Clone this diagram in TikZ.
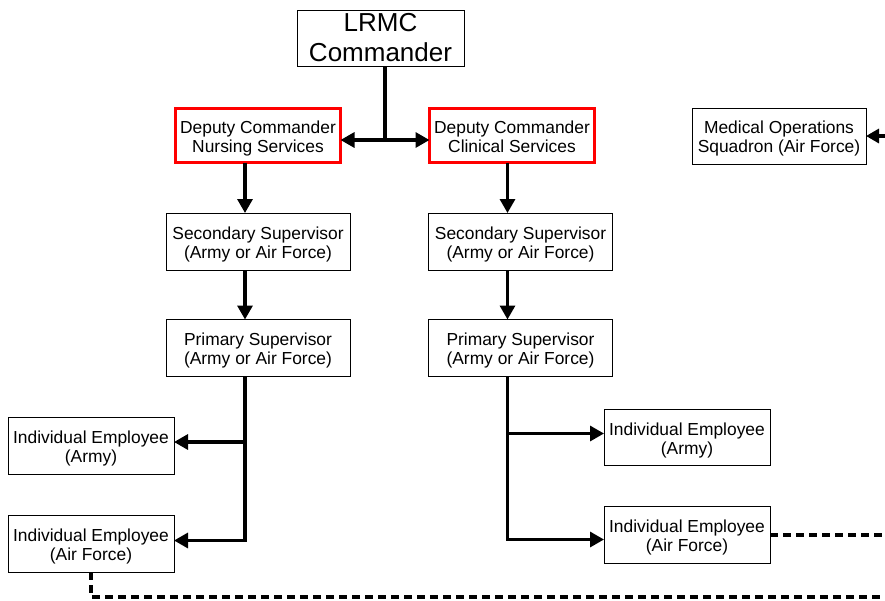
\documentclass[tikz,border=0pt]{standalone}
\usepackage{fontspec}
\setmainfont{Liberation Sans}
\usepackage{xcolor}
\usetikzlibrary{arrows.meta, positioning}

% two text lines with a fixed height and depth, so every box sets them alike
\newcommand{\twolines}[2]{\rule{0pt}{19.4pt}#1\\#2\rule[-5pt]{0pt}{5pt}}

\begin{document}
\begin{tikzpicture}[x=1pt, y=-1pt,
    box/.style={draw, line width=0.9pt, align=center, inner sep=0pt, outer sep=0pt,
                minimum width=184pt, minimum height=57pt,
                font=\fontsize{17.4}{19}\selectfont},
    dep/.style={box, draw=red, line width=2.8pt, minimum width=165pt, minimum height=54pt},
    emp/.style={box, minimum width=166pt, minimum height=56.5pt},
    link/.style={line width=3.2pt},
    arrow/.style={link, -{Triangle[length=14pt, width=15pt]}},
    dashline/.style={line width=3.2pt, dash pattern=on 8pt off 5pt}
    ]
    \useasboundingbox (0,0) rectangle (885,600);

    \node[box, minimum width=167pt, minimum height=56pt,
          font=\fontsize{26}{30}\selectfont] (lrmc) at (380.5,38) {LRMC\\Commander};
    \node[dep] (nursing)  at (258,135.5) {\twolines{Deputy Commander}{Nursing Services}};
    \node[dep] (clinical) at (512,135.5) {\twolines{Deputy Commander}{Clinical Services}};
    \node[box, minimum width=174pt, minimum height=56pt] (medops) at (779,136)
        {\twolines{Medical Operations}{Squadron (Air Force)}};

    \node[box] (secl) at (258,241.5) {\twolines{Secondary Supervisor}{(Army or Air Force)}};
    \node[box] (secr) at (520.5,241.5) {\twolines{Secondary Supervisor}{(Army or Air Force)}};
    \node[box] (priml) at (258,348) {\twolines{Primary Supervisor}{(Army or Air Force)}};
    \node[box] (primr) at (520.5,348) {\twolines{Primary Supervisor}{(Army or Air Force)}};

    \node[emp] (armyl) at (91,446) {\twolines{Individual Employee}{(Army)}};
    \node[emp] (afl)   at (91,544) {\twolines{Individual Employee}{(Air Force)}};
    \node[emp] (armyr) at (687,437.5) {\twolines{Individual Employee}{(Army)}};
    \node[emp] (afr)   at (687,535) {\twolines{Individual Employee}{(Air Force)}};

    % commander to deputies
    \coordinate (hub) at (385,140);
    \draw[link] ([xshift=4.5pt]lrmc.south) -- (hub);
    \draw[link, {Triangle[length=14pt, width=15pt]}-{Triangle[length=14pt, width=15pt]}]
        (nursing.east |- hub) -- (clinical.west |- hub);

    % left chain
    \draw[arrow] ([xshift=-13pt]nursing.south) -- ([xshift=-13pt]secl.north);
    \draw[arrow] ([xshift=-13pt]secl.south) -- ([xshift=-13pt]priml.north);
    \coordinate (busl) at ([xshift=-13pt]priml.south);
    \draw[arrow] (busl) |- ([yshift=3.5pt]afl.east);
    \draw[arrow] (busl |- 0,442) -- (armyl.east |- 0,442);

    % right chain
    \draw[arrow] ([xshift=-4.5pt]clinical.south) -- ([xshift=-4.5pt]clinical.south |- secr.north);
    \draw[arrow] ([xshift=-13pt]secr.south) -- ([xshift=-13pt]primr.north);
    \coordinate (busr) at ([xshift=-13pt]primr.south);
    \draw[arrow] (busr) |- (afr.west |- 0,539.5);
    \draw[arrow] (busr |- 0,433.5) -- (armyr.west |- 0,433.5);

    % air force reporting (dashed)
    \coordinate (rimtop) at (885,136);
    \coordinate (rimmid) at (885,535);
    \coordinate (rimlow) at (885,597);
    \draw[dashline, -{Triangle[length=13pt, width=14pt]}] (rimtop) -- (medops.east);
    \draw[dashline] (afr.east) -- (rimmid);
    \draw[dashline] (afl.south) |- (rimlow);
\end{tikzpicture}
\end{document}
